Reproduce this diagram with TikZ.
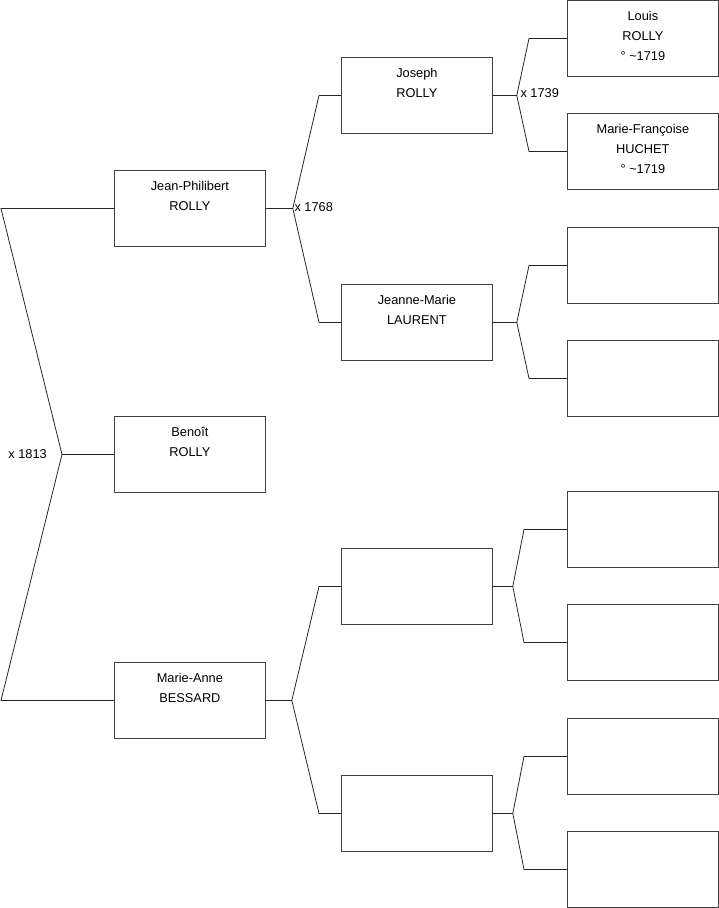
\documentclass[tikz,border=0pt]{standalone}
\usepackage{fontspec}
\setmainfont{Liberation Sans}
\begin{document}
\begin{tikzpicture}[x=1pt,y=-1pt,
  pbox/.style={draw=black!75, line width=0.8pt, minimum width=151pt, minimum height=76pt, inner sep=0pt, anchor=north west},
  ptext/.style={label={[anchor=north,inner sep=0pt,yshift=-8.5pt,align=center,font=\fontsize{12.8}{20}\selectfont]north:\rule{0pt}{12pt}#1}},
  conn/.style={draw=black!85, line width=0.8pt, line join=miter},
  mlabel/.style={font=\fontsize{12.8}{14}\selectfont, inner sep=0pt}
]
\useasboundingbox (0,0) rectangle (719,908);
% generation 1
\node[pbox,ptext={Jean-Philibert\\ROLLY}] (jp) at (114,170) {};
\node[pbox,ptext={Benoît\\ROLLY}] (ben) at (114,416) {};
\node[pbox,ptext={Marie-Anne\\BESSARD}] (ma) at (114,662) {};
% generation 2
\node[pbox,ptext={Joseph\\ROLLY}] (jos) at (341,57) {};
\node[pbox,ptext={Jeanne-Marie\\LAURENT}] (jm) at (341,284) {};
\node[pbox] (gc) at (341,548) {};
\node[pbox] (gd) at (341,775) {};
% generation 3
\node[pbox,ptext={Louis\\ROLLY\\° \textasciitilde1719}] (ha) at (567,0) {};
\node[pbox,ptext={Marie-Françoise\\HUCHET\\° \textasciitilde1719}] (hb) at (567,113) {};
\node[pbox] (hc) at (567,227) {};
\node[pbox] (hd) at (567,340) {};
\node[pbox] (he) at (567,491) {};
\node[pbox] (hf) at (567,604) {};
\node[pbox] (hg) at (567,718) {};
\node[pbox] (hh) at (567,831) {};
% junction points
\coordinate (v0) at ([xshift=-52pt]ben.west);
\coordinate (v1) at ([xshift=27pt]jp.east);
\coordinate (v2) at ([xshift=26pt]ma.east);
\coordinate (v3) at ([xshift=24pt]jos.east);
\coordinate (v4) at ([xshift=24pt]jm.east);
\coordinate (v5) at ([xshift=20pt]gc.east);
\coordinate (v6) at ([xshift=20pt]gd.east);
% connectors
\draw[conn] (jp.west) -- ([xshift=-113pt]jp.west) -- (v0) -- ([xshift=-113pt]ma.west) -- (ma.west);
\draw[conn] (v0) -- (ben.west);
\draw[conn] (jp.east) -- (v1);
\draw[conn] ([xshift=-22pt]jos.west) -- (v1) -- ([xshift=-22pt]jm.west);
\draw[conn] ([xshift=-22pt]jos.west) -- (jos.west);
\draw[conn] ([xshift=-22pt]jm.west) -- (jm.west);
\draw[conn] (ma.east) -- (v2);
\draw[conn] (gc.west) -- ([xshift=-22pt]gc.west) -- (v2) -- ([xshift=-22pt]gd.west) -- (gd.west);
\draw[conn] (jos.east) -- (v3);
\draw[conn] (ha.west) -- ([xshift=-38pt]ha.west) -- (v3) -- ([xshift=-38pt]hb.west) -- (hb.west);
\draw[conn] (jm.east) -- (v4);
\draw[conn] (hc.west) -- ([xshift=-38pt]hc.west) -- (v4) -- ([xshift=-38pt]hd.west) -- (hd.west);
\draw[conn] (gc.east) -- (v5);
\draw[conn] (he.west) -- ([xshift=-43pt]he.west) -- (v5) -- ([xshift=-43pt]hf.west) -- (hf.west);
\draw[conn] (gd.east) -- (v6);
\draw[conn] (hg.west) -- ([xshift=-43pt]hg.west) -- (v6) -- ([xshift=-43pt]hh.west) -- (hh.west);
% marriage labels
\node[mlabel,anchor=east] (m0) at ([xshift=-15pt]v0) {x 1813};
\node[mlabel,anchor=west] (m1) at ([xshift=1.5pt,yshift=1pt]v1) {x 1768};
\node[mlabel,anchor=west] (m3) at ([xshift=3.5pt,yshift=2pt]v3) {x 1739};
\end{tikzpicture}
\end{document}
